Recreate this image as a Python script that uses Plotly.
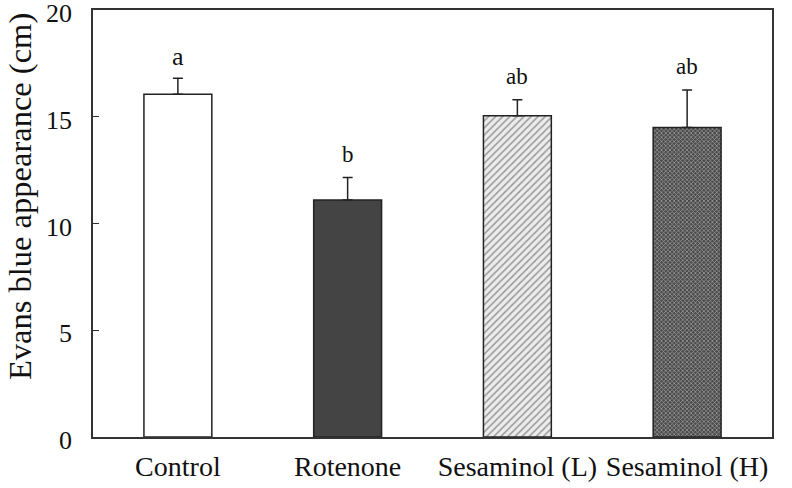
import plotly.graph_objects as go

categories = ["Control", "Rotenone", "Sesaminol (L)", "Sesaminol (H)"]
means = [16.05, 11.1, 15.05, 14.5]
sem = [0.75, 1.05, 0.75, 1.75]
letters = ["a", "b", "ab", "ab"]
y_title = "Evans blue appearance (cm)"

fills = ["white", "#444444", "#ececec", "#4a4a4a"]
shapes = ["", "", "/", "x"]
fgcolors = ["#000000", "#000000", "#b0b0b0", "#8a8a8a"]
letter_sizes = [26, 23, 23, 23]
letter_shifts = [5, 9, 9, 9]

fig = go.Figure()
fig.add_trace(go.Bar(
    x=categories, y=means, width=0.4,
    marker=dict(
        color=fills,
        line=dict(color="#222222", width=1.5),
        pattern=dict(shape=shapes, fgcolor=fgcolors, bgcolor=fills, size=[5, 5, 5, 3], solidity=[0.3, 0.3, 0.3, 0.4]),
    ),
    error_y=dict(type="data", array=sem, arrayminus=[0]*4, symmetric=False,
                 color="#222222", thickness=1.5, width=5),
    showlegend=False,
    hoverinfo="skip",
))

for c, m, s, l, fs, sh in zip(categories, means, sem, letters, letter_sizes, letter_shifts):
    fig.add_annotation(x=c, y=m + s, text=l, showarrow=False, yanchor="bottom", yshift=sh,
                       font=dict(family="Liberation Serif", size=fs, color="#111"))

fig.add_annotation(text=y_title, xref="paper", yref="paper", x=0, y=0.562, xanchor="center",
                   yanchor="middle", xshift=-73, textangle=-90, showarrow=False,
                   font=dict(family="Liberation Serif", size=32.5, color="#111"))

fig.update_layout(
    width=792, height=488,
    margin=dict(l=93, r=20, t=10, b=51),
    paper_bgcolor="white", plot_bgcolor="white",
    font=dict(family="Liberation Serif", size=26, color="#111"),
    bargap=0.6,
)
fig.update_xaxes(range=[-0.5, 3.5], showline=True, linecolor="#333", linewidth=1.5, mirror=True,
                 ticks="", tickfont=dict(size=28), showgrid=False, automargin=False,
                 ticklabelstandoff=4)
fig.update_yaxes(range=[0, 20], dtick=5, showline=True, linecolor="#333", linewidth=1.5, mirror=True,
                 ticks="inside", ticklen=6, tickcolor="#333", showgrid=False, zeroline=False,
                 tickfont=dict(size=26), automargin=False, ticklabeloverflow="allow",
                 ticklabelstandoff=14, ticklabelshift=3)

fig.write_html("out.html", config={"displayModeBar": False},
               post_script="document.body.style.margin='0';")
